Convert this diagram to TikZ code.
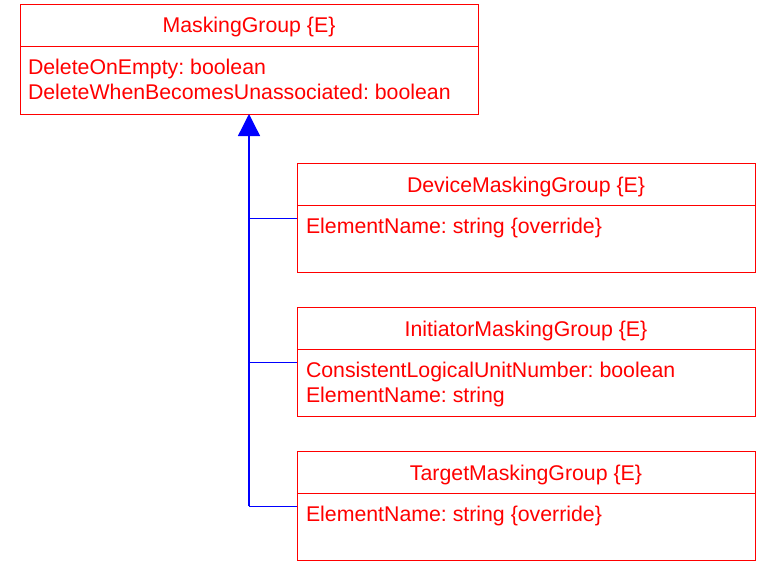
\documentclass[tikz,border=0pt]{standalone}
\usepackage{fontspec}
\setmainfont{Liberation Sans}
\usetikzlibrary{arrows.meta}
\definecolor{umlred}{RGB}{255,0,0}
\definecolor{umlblue}{RGB}{0,0,255}
\tikzset{
  classbox/.style={draw=umlred, line width=1pt, minimum width=458pt, minimum height=109pt, inner sep=0pt, outer sep=0pt},
  txt/.style={text=umlred, font=\frenchspacing\fontsize{21.3}{25}\selectfont, inner sep=0pt, outer sep=0pt},
  divider/.style={draw=umlred, line width=1pt},
  link/.style={draw=umlblue, line width=1pt},
  inherit/.style={draw=umlblue, line width=1.3pt, -{Triangle[length=22pt,width=22pt]}}
}
\begin{document}
\begin{tikzpicture}[x=1pt,y=-1pt]
\useasboundingbox (0,0) rectangle (760,562);
% MaskingGroup
\node[classbox, minimum height=110pt] (mg) at (249,59) {};
\draw[divider] (20,46) -- (478,46);
\node[txt, anchor=base] (mgt) at (249,32) {MaskingGroup \{E\}};
\node[txt, anchor=base west] (mga1) at (28,74) {DeleteOnEmpty: boolean};
\node[txt, anchor=base west] (mga2) at (28,99) {DeleteWhenBecomesUnassociated: boolean};
% Device
\node[classbox] (dev) at (526,217.5) {};
\draw[divider] (297,205) -- (755,205);
\node[txt, anchor=base] (devt) at (526,192) {DeviceMaskingGroup \{E\}};
\node[txt, anchor=base west] (deva1) at (306,233) {ElementName: string \{override\}};
% Initiator
\node[classbox] (ini) at (526,361.5) {};
\draw[divider] (297,349) -- (755,349);
\node[txt, anchor=base] (init) at (526,336) {InitiatorMaskingGroup \{E\}};
\node[txt, anchor=base west] (inia1) at (306,377) {ConsistentLogicalUnitNumber: boolean};
\node[txt, anchor=base west] (inia2) at (306,402) {ElementName: string};
% Target
\node[classbox] (tgt) at (526,505.5) {};
\draw[divider] (297,493) -- (755,493);
\node[txt, anchor=base] (tgtt) at (526,480) {TargetMaskingGroup \{E\}};
\node[txt, anchor=base west] (tgta1) at (306,521) {ElementName: string \{override\}};
% connectors
\coordinate (jd) at (249,218);
\coordinate (ji) at (249,362);
\coordinate (jt) at (249,506);
\draw[link] (dev.west |- jd) -- (jd);
\draw[link] (ini.west |- ji) -- (ji);
\draw[link] (tgt.west |- jt) -- (jt);
\draw[inherit] (jt) -- (mg.south);
\end{tikzpicture}
\end{document}
